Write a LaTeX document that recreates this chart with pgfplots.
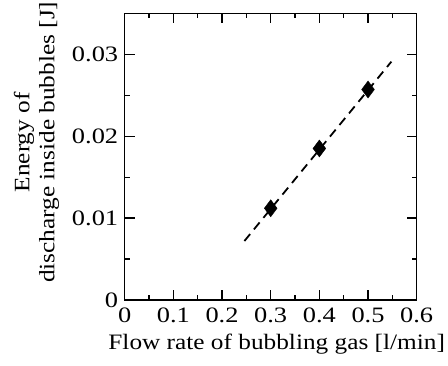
\documentclass[border=0pt]{standalone}
\usepackage{pgfplots}
\pgfplotsset{compat=1.18}
\usepackage{fontspec}
\setmainfont{Liberation Serif}
\newcommand{\sxx}[1]{\scalebox{1.2}[1]{#1}}
\newcommand{\slb}[1]{\scalebox{1.15}[1]{#1}}
\begin{document}
\fontsize{22}{25}\selectfont
\begin{tikzpicture}[font=\fontsize{22}{25}\selectfont]
\begin{axis}[
  name=ax,
  scale only axis,
  width=292pt, height=286.7pt,
  xmin=0, xmax=0.6, ymin=0, ymax=0.035,
  tick label style={font=\fontsize{22}{25}\selectfont},
  label style={font=\fontsize{22}{25}\selectfont},
  axis line style={line width=1.3pt},
  tick style={line width=1.2pt, black},
  tick align=inside,
  major tick length=10pt,
  minor tick length=5pt,
  xtick={0,0.1,0.2,0.3,0.4,0.5,0.6},
  xticklabels={\sxx{0},\sxx{0.1},\sxx{0.2},\sxx{0.3},\sxx{0.4},\sxx{0.5},\sxx{0.6}},
  minor xtick={0.05,0.15,0.25,0.35,0.45,0.55},
  ytick={0,0.01,0.02,0.03},
  yticklabels={\sxx{0},\sxx{0.01},\sxx{0.02},\sxx{0.03}},
  minor ytick={0.005,0.015,0.025},
  scaled y ticks=false,
  scaled x ticks=false,
  yticklabel style={xshift=1pt},
  xlabel={\slb{Flow rate of bubbling gas [l/min]}},
  xlabel style={xshift=6pt, yshift=3pt},
  ylabel={\slb{Energy of}\\\slb{discharge inside bubbles [J]}},
  ylabel style={align=center, at={(ticklabel cs:0.55)}, yshift=-2pt},
  clip=false,
]
\addplot[black, line width=1.8pt, dash pattern=on 9pt off 6pt] coordinates {(0.246,0.0072) (0.548,0.0291)};
\addplot[only marks, mark=diamond*, mark size=8.5pt, black, fill=black] coordinates {(0.3,0.0112) (0.4,0.0185) (0.5,0.0257)};
\end{axis}
\pgfresetboundingbox
\path[use as bounding box] (ax.south west) ++(-124.7pt,-66pt) rectangle ++(448pt,366pt);
\end{tikzpicture}
\end{document}
